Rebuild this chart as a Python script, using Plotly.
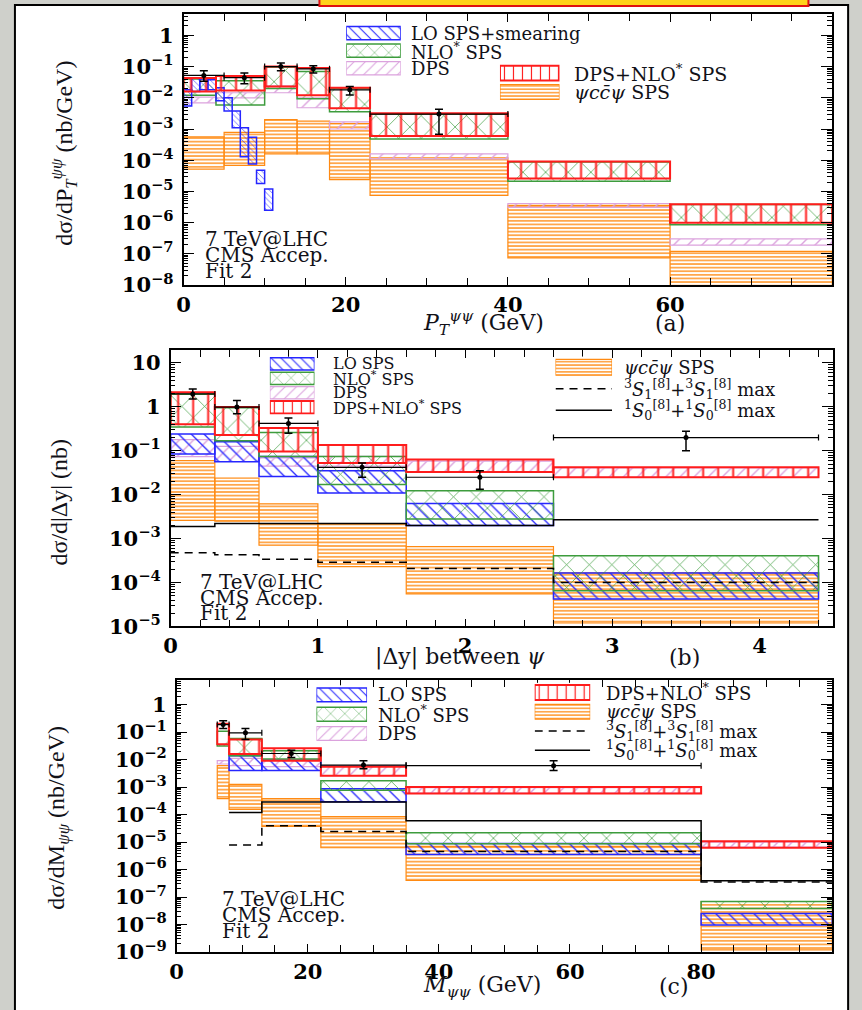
import numpy as np
import plotly.graph_objects as go

W, H = 862, 1010
FONT = "DejaVu Serif"
YFONT = "Liberation Serif"
TEXT = "#111118"

# ===================== DATA =====================
# ---- Panel (a): dsigma/dPT^{psi psi}  (nb/GeV) ----
pt_edges = [0, 4, 10, 14, 18, 23, 40, 60, 80]
pt_red_hi = [0.043, 0.050, 0.10, 0.090, 0.021, 0.0032, 9.1e-5, 3.9e-6]
pt_red_lo = [0.016, 0.017, 0.023, 0.012, 0.0046, 6.0e-4, 2.6e-5, 1.0e-6]
pt_nlo_hi = [0.040, 0.035, 0.097, 0.070, 0.020, 0.0030, 8.7e-5, 3.8e-6]
pt_nlo_lo = [0.012, 0.0059, 0.020, 0.0093, 0.0036, 4.8e-4, 2.1e-5, 8.5e-7]
pt_dps_hi = [0.0105, 0.0145, 0.024, 0.010, 0.0017, 1.6e-4, 4.1e-6, 3.0e-7]
pt_dps_lo = [0.0069, 0.010, 0.0145, 0.0048, 0.0010, 1.1e-4, 3.1e-6, 1.9e-7]
pt_psi_edges = [0, 5, 10, 14, 18, 23, 40, 60, 80]
pt_psi_hi = [5.6e-4, 7.8e-4, 2.0e-3, 1.8e-3, 1.5e-3, 1.2e-4, 3.6e-6, 1.2e-7]
pt_psi_lo = [5.2e-5, 6.8e-5, 1.6e-4, 1.6e-4, 2.4e-5, 7.5e-6, 7.4e-8, 5.0e-9]
pt_lo_edges = [0, 1, 2, 3, 4, 5, 6, 7, 8, 9, 10, 11]
pt_lo_hi = [0.018, 0.043, 0.040, 0.038, 0.021, 0.010, 0.0038, 0.0011, 5.4e-4, 4.8e-5, 1.2e-5]
pt_lo_lo = [0.0055, 0.016, 0.018, 0.018, 0.008, 0.0038, 0.0011, 1.3e-4, 7.6e-5, 1.8e-5, 2.5e-6]
pt_data_x = [2.5, 7.5, 12, 16, 20.5, 31.5]
pt_data_xlo = [0, 5, 10, 14, 18, 23]
pt_data_xhi = [5, 10, 14, 18, 23, 40]
pt_data_y = [0.052, 0.044, 0.10, 0.085, 0.018, 0.0030]
pt_data_ylo = [0.034, 0.028, 0.074, 0.062, 0.0123, 0.00068]
pt_data_yhi = [0.074, 0.062, 0.13, 0.107, 0.023, 0.0043]
pt_tick_labels = [0, 20, 40, 60]
pt_minor_step = 5
pt_decades = [-8, -7, -6, -5, -4, -3, -2, -1, 0]

# ---- Panel (b): dsigma/d|Delta y|  (nb) ----
dy_edges = [0, 0.3, 0.6, 1.0, 1.6, 2.6, 4.4]
dy_red_hi = [2.14, 0.99, 0.33, 0.136, 0.063, 0.042]
dy_red_lo = [0.40, 0.23, 0.097, 0.053, 0.033, 0.025]
dy_nlo_hi = [1.95, 0.95, 0.26, 0.074, 0.0123, 4.1e-4]
dy_nlo_lo = [0.35, 0.17, 0.074, 0.017, 0.0028, 6.5e-5]
dy_lo_hi = [0.24, 0.16, 0.074, 0.035, 0.0063, 1.66e-4]
dy_lo_lo = [0.085, 0.056, 0.026, 0.011, 0.0020, 4.2e-5]
dy_dps_hi = [0.18, 0.126, 0.069, 0.075, 0.058, 0.041]
dy_dps_lo = [0.074, 0.057, 0.045, 0.045, 0.033, 0.025]
dy_psi_hi = [0.060, 0.024, 0.0062, 0.0022, 6.6e-4, 1.66e-4]
dy_psi_lo = [0.0026, 0.0025, 7.1e-4, 2.3e-4, 5.5e-5, 1.2e-5]
dy_s0_max = [1.9e-3, 2.2e-3, 2.2e-3, 2.2e-3, 2.0e-3, 2.7e-3]
dy_s1_max = [4.8e-4, 4.3e-4, 3.4e-4, 2.9e-4, 2.1e-4, 1.0e-4]
dy_data_x = [0.15, 0.45, 0.8, 1.3, 2.1, 3.5]
dy_data_xlo = [0, 0.3, 0.6, 1.0, 1.6, 2.6]
dy_data_xhi = [0.3, 0.6, 1.0, 1.6, 2.6, 4.4]
dy_data_y = [1.97, 0.99, 0.42, 0.042, 0.025, 0.20]
dy_data_ylo = [1.52, 0.70, 0.25, 0.025, 0.0133, 0.10]
dy_data_yhi = [2.55, 1.39, 0.56, 0.053, 0.035, 0.28]
dy_tick_labels = [0, 1, 2, 3, 4]
dy_minor_step = 0.2
dy_decades = [-5, -4, -3, -2, -1, 0, 1]

# ---- Panel (c): dsigma/dM_{psi psi}  (nb/GeV) ----
m_edges = [6.2, 8, 13, 22, 35, 80, 100]
m_red_hi = [0.20, 0.054, 0.026, 0.0055, 1.0e-3, 1.07e-5]
m_red_lo = [0.036, 0.016, 0.0091, 0.0026, 5.8e-4, 6.2e-6]
m_nlo_hi = [0.108, 0.058, 0.021, 0.0017, 2.2e-5, 6.9e-8]
m_nlo_lo = [0.031, 0.0137, 0.0105, 7.6e-4, 8.6e-6, 3.8e-8]
m_lo_hi = [None, 0.0138, 0.0095, 8.7e-4, 8.9e-6, 2.5e-8]
m_lo_lo = [None, 0.0040, 0.0040, 2.9e-4, 3.5e-6, 9.6e-9]
m_dps_hi = [0.0091, 0.011, 0.0095, 0.0060, 9.5e-4, 1.0e-5]
m_dps_lo = [0.0069, 0.0060, 0.0055, 0.0026, 6.0e-4, 6.5e-6]
m_psi_hi = [0.0060, 1.25e-3, 3.8e-4, 8.4e-5, 7.0e-6, 6.9e-8]
m_psi_lo = [3.8e-4, 1.55e-4, 3.7e-5, 6.2e-6, 4.0e-7, 1.2e-9]
m_line_edges = [8, 13, 22, 35, 80, 100]
m_s0_max = [1.2e-4, 2.85e-4, 2.85e-4, 6.0e-5, 3.9e-7]
m_s1_max = [7.9e-6, 3.9e-5, 2.4e-5, 4.5e-6, 3.5e-7]
m_data_x = [7.1, 10.5, 17.5, 28.5, 57.5]
m_data_xlo = [6.2, 8, 13, 22, 35]
m_data_xhi = [8, 13, 22, 35, 80]
m_data_y = [0.187, 0.094, 0.0166, 0.0063, 0.0060]
m_data_ylo = [0.134, 0.054, 0.012, 0.0046, 0.0040]
m_data_yhi = [0.26, 0.134, 0.022, 0.0091, 0.0091]
m_tick_labels = [0, 20, 40, 60, 80]
m_minor_step = 5
m_decades = [-9, -8, -7, -6, -5, -4, -3, -2, -1, 0]

# legend labels
LBL_LOS = "LO SPS+smearing"
LBL_LO = "LO SPS"
LBL_NLO = "NLO<sup>*</sup> SPS"
LBL_DPS = "DPS"
LBL_RED = "DPS+NLO<sup>*</sup> SPS"
LBL_PSI = "<i>ψcc̄ψ</i> SPS"
LBL_S1 = "<sup>3</sup><i>S</i><sub>1</sub><sup>[8]</sup>+<sup>3</sup><i>S</i><sub>1</sub><sup>[8]</sup> max"
LBL_S0 = "<sup>1</sup><i>S</i><sub>0</sub><sup>[8]</sup>+<sup>1</sup><i>S</i><sub>0</sub><sup>[8]</sup> max"

# ===================== STYLES =====================
RED = "#ff1c1c"
GREEN = "#3d9c3d"
BLUE = "#2626ff"
PINK = "#dba2dd"
ORANGE = "#ff8a12"

STY = {
    "red": dict(color=RED, shape="|", size=15, sol=0.13, lw=2.0),
    "nlo": dict(color=GREEN, shape="x", size=16, sol=0.085, lw=1.5),
    "lo": dict(color=BLUE, shape="\\", size=9, sol=0.15, lw=1.5),
    "dps": dict(color=PINK, shape="/", size=10, sol=0.14, lw=1.2),
    "psi": dict(color=ORANGE, shape="-", size=3.6, sol=0.38, lw=1.2),
}
LEG_SIZE = {"red": 9, "nlo": 10, "lo": 7, "dps": 8, "psi": 3.4}


def fx(px):
    return px / W


def fy(py):
    return 1 - py / H


fig = go.Figure()


def marker_for(key, size=None):
    s = STY[key]
    return dict(color=s["color"], line=dict(color=s["color"], width=s["lw"]),
                pattern=dict(shape=s["shape"], fgcolor=s["color"], bgcolor="rgba(0,0,0,0)",
                             size=size if size else s["size"], solidity=s["sol"], fillmode="replace"))


def add_band(edges, lo, hi, key, xa, ya, size=None):
    xs, ws, bs, ls = [], [], [], []
    for i in range(len(lo)):
        if lo[i] is None or hi[i] is None:
            continue
        xs.append(0.5 * (edges[i] + edges[i + 1]))
        ws.append(edges[i + 1] - edges[i])
        bs.append(lo[i])
        ls.append(hi[i] - lo[i])
    fig.add_trace(go.Bar(x=xs, y=ls, base=bs, width=ws, xaxis=xa, yaxis=ya, textposition="none",
                         marker=marker_for(key, size), showlegend=False, hoverinfo="skip"))


def add_step(edges, vals, dash, xa, ya):
    fig.add_trace(go.Scatter(x=list(edges), y=list(vals) + [vals[-1]], mode="lines",
                             line=dict(color="black", width=1.5, dash=dash, shape="hv"),
                             xaxis=xa, yaxis=ya, showlegend=False, hoverinfo="skip"))


def add_data(x, xlo, xhi, y, ylo, yhi, xa, ya):
    fig.add_trace(go.Scatter(
        x=x, y=y, mode="markers", marker=dict(color="black", size=5),
        error_x=dict(type="data", symmetric=False,
                     array=[b - a for a, b in zip(x, xhi)],
                     arrayminus=[a - b for a, b in zip(x, xlo)],
                     color="black", thickness=1.2, width=3),
        error_y=dict(type="data", symmetric=False,
                     array=[b - a for a, b in zip(y, yhi)],
                     arrayminus=[a - b for a, b in zip(y, ylo)],
                     color="black", thickness=1.5, width=4),
        xaxis=xa, yaxis=ya, showlegend=False, hoverinfo="skip"))


# ---- Panel (a) ----
add_band(pt_psi_edges, pt_psi_lo, pt_psi_hi, "psi", "x", "y")
add_band(pt_edges, pt_dps_lo, pt_dps_hi, "dps", "x", "y")
add_band(pt_edges, pt_nlo_lo, pt_nlo_hi, "nlo", "x", "y")
add_band(pt_lo_edges, pt_lo_lo, pt_lo_hi, "lo", "x", "y", size=4)
add_band(pt_edges, pt_red_lo, pt_red_hi, "red", "x", "y")
add_data(pt_data_x, pt_data_xlo, pt_data_xhi, pt_data_y, pt_data_ylo, pt_data_yhi, "x", "y")

# ---- Panel (b) ----
add_band(dy_edges, dy_psi_lo, dy_psi_hi, "psi", "x2", "y2")
add_band(dy_edges, dy_dps_lo, dy_dps_hi, "dps", "x2", "y2")
add_band(dy_edges, dy_lo_lo, dy_lo_hi, "lo", "x2", "y2")
add_band(dy_edges, dy_nlo_lo, dy_nlo_hi, "nlo", "x2", "y2")
add_band(dy_edges, dy_red_lo, dy_red_hi, "red", "x2", "y2")
add_step(dy_edges, dy_s1_max, "8px,6px", "x2", "y2")
add_step(dy_edges, dy_s0_max, "solid", "x2", "y2")
add_data(dy_data_x, dy_data_xlo, dy_data_xhi, dy_data_y, dy_data_ylo, dy_data_yhi, "x2", "y2")

# ---- Panel (c) ----
add_band(m_edges, m_psi_lo, m_psi_hi, "psi", "x3", "y3")
add_band(m_edges, m_dps_lo, m_dps_hi, "dps", "x3", "y3")
add_band(m_edges, m_lo_lo, m_lo_hi, "lo", "x3", "y3")
add_band(m_edges, m_nlo_lo, m_nlo_hi, "nlo", "x3", "y3")
add_band(m_edges, m_red_lo, m_red_hi, "red", "x3", "y3")
add_step(m_line_edges, m_s1_max, "8px,6px", "x3", "y3")
add_step(m_line_edges, m_s0_max, "solid", "x3", "y3")
add_data(m_data_x, m_data_xlo, m_data_xhi, m_data_y, m_data_ylo, m_data_yhi, "x3", "y3")


# ===================== AXES =====================
def xaxis_cfg(dom, rng, labels, minor_step, anchor):
    return dict(domain=[fx(dom[0]), fx(dom[1])], range=rng, anchor=anchor,
                tickmode="array", tickvals=labels, ticktext=[f"{v:g}" for v in labels],
                ticks="inside", ticklen=8, tickwidth=1.2, tickcolor="black",
                minor=dict(tickmode="linear", tick0=0, dtick=minor_step, ticks="inside",
                           ticklen=7, tickwidth=1.2, tickcolor="black", showgrid=False),
                showline=True, linecolor="black", linewidth=1.5, mirror="ticks",
                showgrid=False, zeroline=False,
                tickfont=dict(family=FONT, size=21, color="black", weight="bold"))


def dec_label(k):
    if k == 0:
        return "1"
    if k == 1:
        return "10"
    return "10<sup>" + ("−" if k < 0 else "") + str(abs(k)) + "</sup>"


def yaxis_cfg(dom, rng, decades, anchor):
    minor_vals = [m * 10.0 ** k for k in range(decades[0] - 1, decades[-1] + 1) for m in range(2, 10)]
    return dict(domain=[fy(dom[1]), fy(dom[0])], range=rng, type="log", anchor=anchor,
                tickmode="array", tickvals=[10.0 ** k for k in decades],
                ticktext=[dec_label(k) for k in decades],
                ticks="inside", ticklen=11, tickwidth=1.2, tickcolor="black",
                minor=dict(tickmode="array", tickvals=minor_vals, ticks="inside", ticklen=5,
                           tickwidth=1, tickcolor="black", showgrid=False),
                showline=True, linecolor="black", linewidth=1.5, mirror="ticks",
                showgrid=False, zeroline=False, ticklabelstandoff=4,
                tickfont=dict(family=FONT, size=21, color="black", weight="bold"))


layout = dict(
    width=W, height=H, margin=dict(l=0, r=0, t=0, b=0),
    paper_bgcolor="#cfd0cb", plot_bgcolor="white", barmode="overlay", showlegend=False,
    xaxis=xaxis_cfg((178, 832), [0, 80], pt_tick_labels, pt_minor_step, "y"),
    yaxis=yaxis_cfg((14, 288.5), [-8, 0.69], pt_decades, "x"),
    xaxis2=xaxis_cfg((165, 833), [0, 4.5], dy_tick_labels, dy_minor_step, "y2"),
    yaxis2=yaxis_cfg((354, 634), [-5, 1.3], dy_decades, "x2"),
    xaxis3=xaxis_cfg((171, 832), [0, 100], m_tick_labels, m_minor_step, "y3"),
    yaxis3=yaxis_cfg((688, 963.5), [-9, 0.9], m_decades, "x3"),
)

# ===================== LEGENDS (key boxes on small hidden axes) =====================
legend_cols = [
    dict(sx=(342, 397), y0=33.5, dy=17.8, h=13.5, tx=405, fs=18,
         items=[("lo", LBL_LOS), ("nlo", LBL_NLO), ("dps", LBL_DPS)]),
    dict(sx=(497, 557), y0=74.0, dy=19.0, h=15, tx=570, fs=19,
         items=[("red", LBL_RED), ("psi", LBL_PSI)]),
    dict(sx=(265, 310), y0=368.3, dy=14.6, h=12.5, tx=327, fs=16,
         items=[("lo", LBL_LO), ("nlo", LBL_NLO), ("dps", LBL_DPS), ("red", LBL_RED)]),
    dict(sx=(553, 610), y0=371.7, dy=21.7, h=16, tx=620, fs=18,
         items=[("psi", LBL_PSI), ("dash", LBL_S1), ("solid", LBL_S0)]),
    dict(sx=(312, 363), y0=703.3, dy=19.5, h=14, tx=372, fs=18,
         items=[("lo", LBL_LO), ("nlo", LBL_NLO), ("dps", LBL_DPS)]),
    dict(sx=(532, 588), y0=700.8, dy=19.5, h=15, tx=602, fs=18,
         items=[("red", LBL_RED), ("psi", LBL_PSI), ("dash", LBL_S1), ("solid", LBL_S0)]),
]

annotations = []
for k, col in enumerate(legend_cols):
    ax_id = k + 4
    n = len(col["items"])
    top = col["y0"] - col["dy"] / 2
    bot = col["y0"] + (n - 0.5) * col["dy"]
    layout[f"xaxis{ax_id}"] = dict(domain=[fx(col["sx"][0]), fx(col["sx"][1])], range=[0, 1],
                                   anchor=f"y{ax_id}", visible=False, fixedrange=True)
    layout[f"yaxis{ax_id}"] = dict(domain=[fy(bot), fy(top)], range=[n - 0.5, -0.5],
                                   anchor=f"x{ax_id}", visible=False, fixedrange=True)
    for i, (key, label) in enumerate(col["items"]):
        if key in STY:
            fig.add_trace(go.Bar(orientation="h", y=[i], x=[1], base=[0], width=[col["h"] / col["dy"]],
                                 xaxis=f"x{ax_id}", yaxis=f"y{ax_id}", textposition="none",
                                 marker=marker_for(key, LEG_SIZE[key]),
                                 showlegend=False, hoverinfo="skip"))
        else:
            fig.add_trace(go.Scatter(x=[0, 1], y=[i, i], mode="lines",
                                     line=dict(color="black", width=1.5,
                                               dash="8px,6px" if key == "dash" else "solid"),
                                     xaxis=f"x{ax_id}", yaxis=f"y{ax_id}",
                                     showlegend=False, hoverinfo="skip"))
        annotations.append(dict(text=label, xref="paper", yref=f"y{ax_id}", x=fx(col["tx"]), y=i,
                                xanchor="left", yanchor="middle", showarrow=False,
                                font=dict(family=FONT, size=col["fs"], color=TEXT)))


def note(text, x, y, size, family=FONT, xanchor="left", angle=0):
    annotations.append(dict(text=text, xref="paper", yref="paper", x=fx(x), y=fy(y),
                            xanchor=xanchor, yanchor="middle", showarrow=False, textangle=angle,
                            font=dict(family=family, size=size, color=TEXT)))


# info text
for (x0, ys) in [(198, (242, 258, 274)), (193, (589, 605, 620)), (215, (910, 926, 942))]:
    for t, yy in zip(["7 TeV@LHC", "CMS Accep.", "Fit 2"], ys):
        note(t, x0, yy, 20)

# axis titles
note("<i>P</i><sub><i>T</i></sub><sup><i>ψψ</i></sup> (GeV)", 480, 327, 22, xanchor="center")
note("(a)", 668, 327, 22, xanchor="center")
note("|Δy| between <i>ψ</i>", 457, 665, 22, xanchor="center")
note("(b)", 683, 665, 22, xanchor="center")
note("<i>M</i><sub><i>ψψ</i></sub> (GeV)", 479, 998, 22, xanchor="center")
note("(c)", 672, 998, 22, xanchor="center")
note("dσ/dP<sub><i>T</i></sub><sup><i>ψψ</i></sup> (nb/GeV)", 58, 155, 24, family=YFONT, xanchor="center", angle=-90)
note("dσ/d|Δy| (nb)", 52, 508, 24, family=YFONT, xanchor="center", angle=-90)
note("dσ/dM<sub><i>ψψ</i></sub> (nb/GeV)", 52, 828, 24, family=YFONT, xanchor="center", angle=-90)

layout["annotations"] = annotations
layout["shapes"] = [
    dict(type="rect", xref="paper", yref="paper", x0=fx(8), x1=fx(848), y0=fy(1100), y1=fy(5),
         fillcolor="white", line=dict(color="black", width=2), layer="below"),
    dict(type="rect", xref="paper", yref="paper", x0=fx(315), x1=fx(808), y0=fy(6), y1=fy(-4),
         fillcolor="#ffd21a", line=dict(color="#e01010", width=2), layer="below"),
]

fig.update_layout(**layout)
fig.write_html("out.html")
